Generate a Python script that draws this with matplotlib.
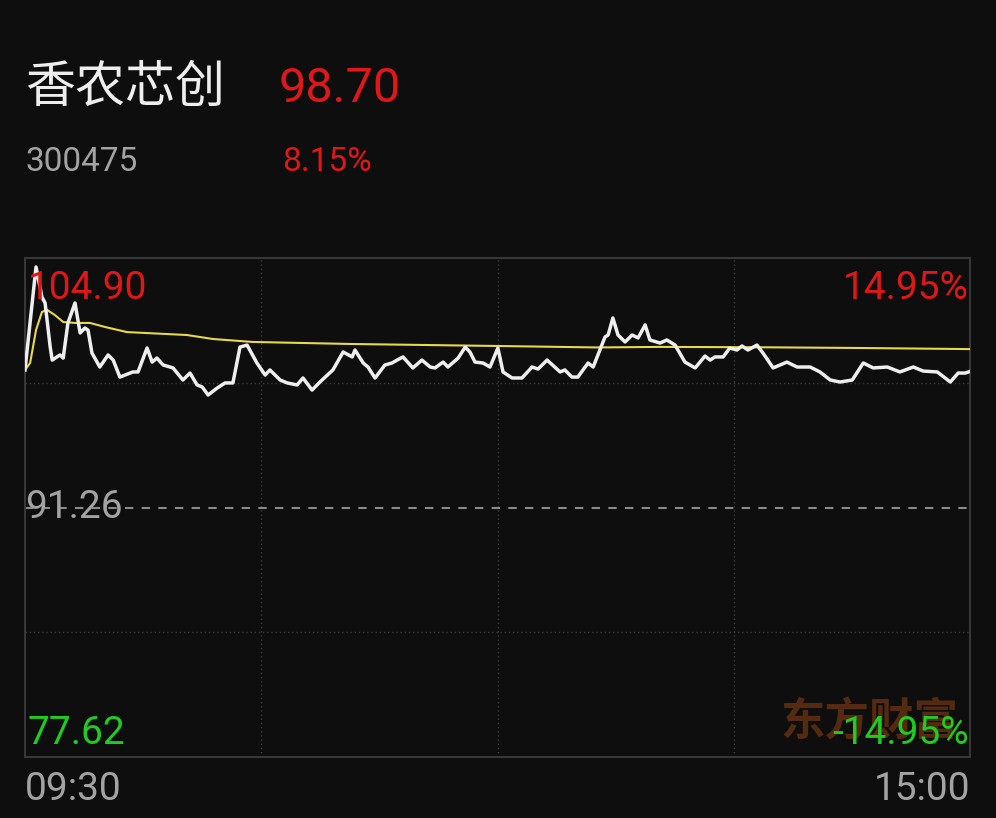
import matplotlib
matplotlib.use("Agg")
import matplotlib.pyplot as plt

plt.rcParams['font.family'] = ['Noto Sans CJK SC', 'DejaVu Sans']
NUM_FONT = ['Roboto', 'Noto Sans CJK SC', 'DejaVu Sans']

name = "香农芯创"
code = "300475"
last_price = "98.70"
change_pct = "8.15%"
y_top_label = "104.90"
y_mid_label = "91.26"
y_bot_label = "77.62"
pct_top_label = "14.95%"
pct_bot_label = "-14.95%"
time_labels = ["09:30", "15:00"]
watermark = "东方财富"

y_min, y_mid, y_max = 77.62, 91.26, 104.90
total_minutes = 240

price_minutes = [0, 2.8, 4.3, 5.1, 6.4, 6.9, 8.1, 8.9, 9.7, 10.9, 12.7, 14.0, 15.2, 16.0, 17.0,
                 19.0, 21.1, 22.4, 24.1, 27.4, 28.7, 31.0, 32.3, 33.5, 35.1, 37.6, 40.1, 41.9,
                 43.7, 45.0, 46.5, 48.8, 50.8, 52.8, 54.6, 56.4, 58.9, 61.0, 62.2, 64.8, 66.6,
                 69.1, 70.6, 72.9, 74.9, 78.2, 80.8, 83.1, 83.8, 85.9, 87.1, 88.9, 91.4, 93.2,
                 94.5, 96.0, 98.5, 100.8, 102.9, 104.1, 106.2, 107.4, 110.0, 111.8, 113.0, 114.3,
                 116.3, 118.1, 120.1, 121.4, 123.7, 126.2, 128.8, 130.3, 132.6, 135.9, 137.1,
                 138.9, 140.4, 143.0, 144.3, 146.0, 147.3, 148.1, 149.3, 150.6, 152.4, 154.2,
                 155.7, 157.5, 158.7, 161.3, 163.0, 165.1, 167.6, 170.2, 172.7, 174.0, 175.2,
                 177.3, 179.0, 180.8, 182.1, 183.6, 185.9, 187.4, 190.0, 193.5, 196.1, 199.4,
                 201.9, 204.5, 207.0, 210.1, 212.9, 215.4, 219.0, 222.2, 225.6, 228.1, 231.7,
                 235.0, 237.0, 238.8, 240]
prices = [98.78, 104.41, 102.77, 102.44, 100.03, 99.32, 99.49, 99.60, 99.43, 101.35, 102.44,
          100.80, 101.07, 100.96, 99.71, 98.94, 99.60, 99.32, 98.39, 98.67, 98.67, 99.98, 99.21,
          99.43, 99.05, 98.89, 98.23, 98.61, 97.96, 97.85, 97.41, 97.79, 98.07, 98.07, 100.03,
          100.14, 99.16, 98.50, 98.78, 98.23, 98.07, 97.96, 98.34, 97.68, 98.12, 98.78, 99.76,
          99.49, 99.87, 99.16, 98.94, 98.34, 99.05, 99.16, 99.32, 99.49, 98.89, 99.32, 98.94,
          98.89, 99.21, 98.94, 99.43, 100.03, 99.76, 99.21, 99.16, 98.94, 99.98, 98.67, 98.34,
          98.34, 98.94, 98.83, 99.32, 98.67, 98.78, 98.39, 98.39, 99.16, 98.94, 99.87, 100.58,
          100.69, 101.62, 100.69, 100.31, 100.69, 100.53, 101.24, 100.42, 100.25, 100.42, 100.14,
          99.21, 98.89, 99.54, 99.32, 99.49, 99.49, 99.98, 99.87, 100.09, 99.87, 100.14, 99.71,
          98.89, 99.21, 98.94, 98.94, 98.67, 98.23, 98.12, 98.23, 99.16, 98.89, 98.94, 98.67,
          98.94, 98.72, 98.67, 98.12, 98.61, 98.61, 98.70]

avg_minutes = [0, 1.3, 2.8, 4.3, 5.6, 7.6, 9.7, 12.7, 16.5, 20.3, 25.9, 41.1, 47.8, 57.9,
               82.6, 119.9, 145.3, 161.3, 186.7, 212.1, 240]
avg_prices = [98.78, 99.16, 100.96, 101.95, 102.06, 101.78, 101.40, 101.35, 101.35, 101.13,
              100.85, 100.69, 100.47, 100.31, 100.20, 100.09, 100.01, 100.04, 100.02, 99.98, 99.92]

BG = "#0e0e0e"
RED = "#e01717"
GREEN = "#1fcc1f"
GRAY = "#a3a3a3"

fig = plt.figure(figsize=(9.96, 8.18), dpi=100, facecolor=BG)
ax = fig.add_axes([25 / 996, 61 / 818, 945 / 996, 499 / 818])
ax.set_facecolor(BG)
ax.set_xlim(0, total_minutes)
ax.set_ylim(y_min, y_max)
ax.set_xticks([])
ax.set_yticks([])
for s in ax.spines.values():
    s.set_color("#383838")
    s.set_linewidth(1.5)

# grid
q1 = y_min + (y_max - y_min) * 0.25
q3 = y_min + (y_max - y_min) * 0.75
for yv in (q1, q3):
    ax.axhline(yv, color="#3a3a3a", lw=1, ls=(0, (1, 2)), zorder=1)
for xv in (60, 120, 180):
    ax.axvline(xv, color="#3a3a3a", lw=1, ls=(0, (1, 2)), zorder=1)
ax.axhline(y_mid, color="#8a8a8a", lw=1.5, ls=(0, (4, 4)), zorder=1)

# watermark
ax.text(0.988, 0.07, watermark, transform=ax.transAxes, ha="right", va="center",
        fontsize=32, color="#542a10", fontweight="bold", zorder=2)

ax.plot(avg_minutes, avg_prices, color="#e8d84a", lw=1.5, zorder=3)
ax.plot(price_minutes, prices, color="#eeeeee", lw=2.5, zorder=4)

fs = 28
ax.text(0.003, 0.975, y_top_label, transform=ax.transAxes, ha="left", va="top",
        fontsize=fs, color=RED, family=NUM_FONT, zorder=5)
ax.text(0.999, 0.975, pct_top_label, transform=ax.transAxes, ha="right", va="top",
        fontsize=fs, color=RED, family=NUM_FONT, zorder=5)
ax.text(0.0, y_mid, y_mid_label, transform=ax.get_yaxis_transform(), ha="left", va="center",
        fontsize=fs, color=GRAY, family=NUM_FONT, zorder=5)
ax.text(0.003, 0.01, y_bot_label, transform=ax.transAxes, ha="left", va="bottom",
        fontsize=fs, color=GREEN, family=NUM_FONT, zorder=5)
ax.text(0.999, 0.01, pct_bot_label, transform=ax.transAxes, ha="right", va="bottom",
        fontsize=fs, color=GREEN, family=NUM_FONT, zorder=5)

# time labels
fig.text(25 / 996, 1 - 789 / 818, time_labels[0], ha="left", va="center", fontsize=fs,
         color=GRAY, family=NUM_FONT)
fig.text(970 / 996, 1 - 789 / 818, time_labels[1], ha="right", va="center", fontsize=fs,
         color=GRAY, family=NUM_FONT)

# header
fig.text(25 / 996, 1 - 88 / 818, name, ha="left", va="center", fontsize=36, color="#eeeeee")
fig.text(279 / 996, 1 - 89 / 818, last_price, ha="left", va="center", fontsize=35, color=RED,
         family=NUM_FONT)
fig.text(25 / 996, 1 - 162 / 818, code, ha="left", va="center", fontsize=24, color=GRAY,
         family=NUM_FONT)
fig.text(282 / 996, 1 - 162 / 818, change_pct, ha="left", va="center", fontsize=24, color=RED,
         family=NUM_FONT)

fig.savefig("out.png", dpi=100, facecolor=BG)
